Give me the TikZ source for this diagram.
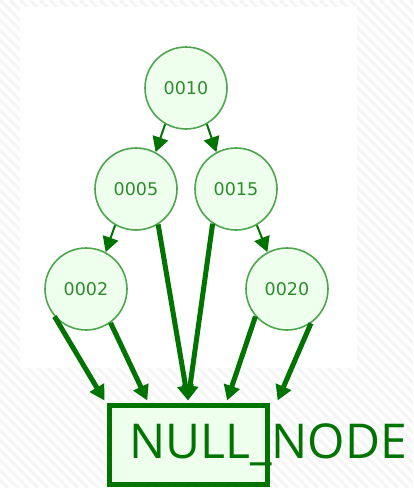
\documentclass[tikz,border=0pt]{standalone}
\usepackage{fontspec}
\setmainfont{DejaVu Sans}
\newfontfamily\bigfont{Open Sans}
\usetikzlibrary{arrows.meta,calc}
\definecolor{edgegreen}{HTML}{007300}
\definecolor{circgreen}{HTML}{4DA64D}
\definecolor{textgreen}{HTML}{2E8B2E}
\definecolor{fillgreen}{HTML}{EEFFEE}
\tikzset{
  treenode/.style={circle, draw=circgreen, fill=fillgreen, line width=1.6pt, minimum size=82pt, inner sep=0pt, text=textgreen, font=\fontsize{17.5}{17.5}\selectfont},
  childedge/.style={draw=edgegreen, line width=2pt, -{Triangle[width=16pt,length=15pt]}},
  nulledge/.style={draw=edgegreen, line width=5pt, -{Triangle[width=16pt,length=15pt]}},
  nullbox/.style={draw=edgegreen, fill=fillgreen, line width=5pt, minimum width=158pt, minimum height=79pt, inner sep=0pt},
}
\begin{document}
\begin{tikzpicture}[x=1pt,y=-1pt]
\useasboundingbox (0,0) rectangle (413,488);
% hatched background
\fill[white] (0,0) rectangle (413,488);
\begin{scope}
\clip (0,0) rectangle (413,488);
\foreach \i in {-55,...,45} {
  \draw[gray!8, line width=3pt] (\i*10,0) -- (\i*10+488,488);
}
\end{scope}
\fill[white] (20,7) rectangle (357,368);
% nodes
\node[treenode] (n10) at (186,88) {0010};
\node[treenode] (n05) at (136,189) {0005};
\node[treenode] (n15) at (236,189) {0015};
\node[treenode] (n02) at (86,289) {0002};
\node[treenode] (n20) at (287,289) {0020};
\node[nullbox] (null) at (188,444.5) {};
\node[anchor=base west, text=edgegreen, font=\bigfont\fontsize{48}{48}\selectfont, inner sep=0pt] (nulltext) at (129,458) {NULL\_NODE};
% child edges
\draw[childedge] (n10.240) -- (n05.62);
\draw[childedge] (n10.300) -- (n15.118);
\draw[childedge] (n05.240) -- (n02.62);
\draw[childedge] (n15.300) -- (n20.118);
% null edges
\draw[nulledge] (n02.221) -- ($(null.north west)+(-2,-2)$);
\draw[nulledge] (n02.306) -- ($(null.north west)!0.25!(null.north east)+(0,-2)$);
\draw[nulledge] (n05.302) -- ($(null.north west)!0.5!(null.north east)+(0,-2)$);
\draw[nulledge] (n15.236) -- ($(null.north west)!0.5!(null.north east)+(0,-2)$);
\draw[nulledge] (n20.221) -- ($(null.north west)!0.74!(null.north east)+(0,-2)$);
\draw[nulledge] (n20.305) -- ($(null.north west)!1.05!(null.north east)+(0,-2)$);
\end{tikzpicture}
\end{document}
